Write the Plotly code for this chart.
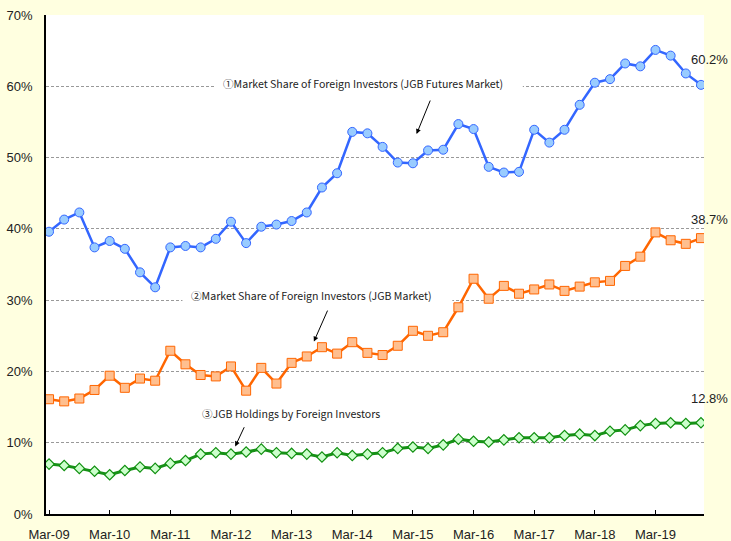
import plotly.graph_objects as go

# ---- data ----
years = ["09", "10", "11", "12", "13", "14", "15", "16", "17", "18", "19"]
months = ["Mar", "Jun", "Sep", "Dec"]
quarters = [f"{m}-{y}" for y in years for m in months]  # Mar-09 ... Dec-19

futures_share = [39.6, 41.3, 42.3, 37.4, 38.3, 37.2, 33.9, 31.8, 37.4, 37.6, 37.4, 38.6,
                 41.0, 38.0, 40.3, 40.6, 41.1, 42.3, 45.8, 47.8, 53.6, 53.4, 51.5, 49.3,
                 49.2, 51.0, 51.1, 54.7, 54.0, 48.7, 47.9, 48.0, 53.9, 52.1, 53.9, 57.4,
                 60.5, 61.0, 63.2, 62.8, 65.1, 64.3, 61.8, 60.2]
jgb_share = [16.1, 15.8, 16.2, 17.4, 19.4, 17.7, 19.0, 18.7, 22.9, 21.0, 19.5, 19.3,
             20.7, 17.3, 20.5, 18.3, 21.2, 22.1, 23.4, 22.5, 24.1, 22.6, 22.3, 23.6,
             25.7, 25.0, 25.5, 29.0, 33.0, 30.2, 32.0, 30.9, 31.5, 32.2, 31.3, 31.9,
             32.5, 32.7, 34.8, 36.1, 39.5, 38.4, 37.9, 38.7]
holdings = [7.0, 6.8, 6.4, 6.0, 5.5, 6.1, 6.6, 6.4, 7.1, 7.5, 8.4, 8.6,
            8.4, 8.7, 9.1, 8.6, 8.5, 8.4, 8.0, 8.6, 8.2, 8.4, 8.6, 9.2,
            9.4, 9.2, 9.7, 10.5, 10.2, 10.1, 10.4, 10.7, 10.7, 10.7, 11.0, 11.2,
            11.0, 11.6, 11.8, 12.4, 12.7, 12.8, 12.7, 12.8]

tick_labels = [q for q in quarters if q.startswith("Mar")]
y_ticks = [0, 10, 20, 30, 40, 50, 60, 70]

name1 = "①Market Share of Foreign Investors (JGB Futures Market)"
name2 = "②Market Share of Foreign Investors (JGB Market)"
name3 = "③JGB Holdings by Foreign Investors"

fig = go.Figure()
fig.add_trace(go.Scatter(
    x=quarters, y=futures_share, mode="lines+markers", name=name1,
    line=dict(color="#3366FF", width=2.5),
    marker=dict(symbol="circle", size=9, color="#99CCFF", line=dict(color="#3366FF", width=1)),
))
fig.add_trace(go.Scatter(
    x=quarters, y=jgb_share, mode="lines+markers", name=name2,
    line=dict(color="#FF6600", width=2.5),
    marker=dict(symbol="square", size=9, color="#FFBF8F", line=dict(color="#FF6600", width=1)),
))
fig.add_trace(go.Scatter(
    x=quarters, y=holdings, mode="lines+markers", name=name3,
    line=dict(color="#179117", width=3),
    marker=dict(symbol="diamond", size=8, color="#CCFFCC", line=dict(color="#109010", width=1.2)),
))

ann_font = dict(family="Noto Sans CJK JP, Noto Sans, sans-serif", size=10.6, color="#222222")

# white boxes behind the series labels (cover gridlines)
fig.add_shape(type="rect", xref="x", yref="y", x0=11.0, x1=31.25, y0=59.0, y1=61.2,
              fillcolor="white", line=dict(width=0), layer="between")
fig.add_shape(type="rect", xref="x", yref="y", x0=8.8, x1=26.6, y0=29.2, y1=31.4,
              fillcolor="white", line=dict(width=0), layer="between")

fig.add_annotation(x=20.7, y=60.4, xref="x", yref="y", text=name1, showarrow=False, font=ann_font)
fig.add_annotation(x=17.25, y=30.7, xref="x", yref="y", text=name2, showarrow=False, font=ann_font)
fig.add_annotation(x=15.95, y=14.07, xref="x", yref="y", text=name3, showarrow=False, font=ann_font)

# arrows
for (hx, hy, ax, ay) in [(24.24, 53.3, 14.3, -35), (17.47, 24.2, 14.3, -32.4), (12.28, 9.48, 9.7, -20.7)]:
    fig.add_annotation(x=hx, y=hy, xref="x", yref="y", text="", showarrow=True,
                       ax=ax, ay=ay, axref="pixel", ayref="pixel",
                       arrowhead=2, arrowsize=1, arrowwidth=1, arrowcolor="#000000")

# end value labels
for series, ys in [(futures_share, 25), (jgb_share, 19), (holdings, 24)]:
    fig.add_annotation(x=len(series) - 1, y=series[-1], xref="x", yref="y",
                       text=f"{series[-1]:.1f}%", showarrow=False,
                       xanchor="center", yanchor="middle", xshift=9, yshift=ys,
                       font=dict(family="Liberation Sans, Arial, sans-serif", size=13, color="#222222"))

fig.update_xaxes(
    type="category", categoryorder="array", categoryarray=quarters,
    range=[-0.2, 43.2], tickmode="array", tickvals=tick_labels, ticktext=tick_labels,
    showline=True, linecolor="#000000", linewidth=1.5,
    ticks="inside", ticklen=4, tickcolor="#000000", tickwidth=1,
    showgrid=False, zeroline=False, automargin=False, ticklabelstandoff=8,
    tickfont=dict(family="Liberation Sans, Arial, sans-serif", size=13, color="#222222"),
)
fig.update_yaxes(
    range=[0, 70], tickmode="array", tickvals=y_ticks, ticktext=[f"{v}%" for v in y_ticks],
    showline=True, linecolor="#000000", linewidth=1.5, ticks="",
    showgrid=True, gridcolor="#999999", gridwidth=1, griddash="3px,2px",
    zeroline=False, ticklabelstandoff=9, automargin=False,
    tickfont=dict(family="Liberation Sans, Arial, sans-serif", size=13, color="#222222"),
)

fig.update_layout(
    width=731, height=541,
    margin=dict(l=46, r=27, t=15, b=27, autoexpand=False),
    paper_bgcolor="#FFFFE0", plot_bgcolor="#FFFFFF",
    showlegend=False,
)

fig.write_html("out.html", config={"displayModeBar": False},
               post_script="document.body.style.margin='0';document.body.style.overflow='hidden';")
